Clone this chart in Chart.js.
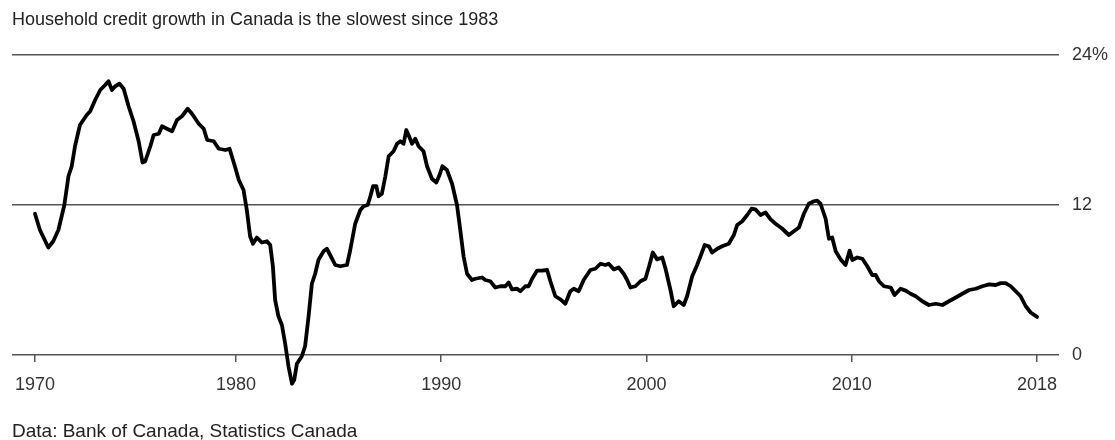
<!DOCTYPE html>
<html>
<head>
<meta charset="utf-8">
<script src="https://cdn.jsdelivr.net/npm/chart.js@4.4.1/dist/chart.umd.min.js"></script>
<style>
  html, body { margin: 0; padding: 0; background: #fff; }
  #wrap { position: relative; width: 1115px; height: 440px; overflow: hidden; }
  #chart-box { position: absolute; left: 0; top: 0; width: 1115px; height: 440px; }
  .txt { position: absolute; left: 12px; font-family: "Liberation Sans", Arial, sans-serif; color: #222; white-space: nowrap; line-height: 1; }
  #title { top: 10px; font-size: 18px; }
  #source { top: 421px; font-size: 19px; }
</style>
</head>
<body>
<div id="wrap">
  <div id="chart-box"><canvas id="c"></canvas></div>
  <div id="title" class="txt">Household credit growth in Canada is the slowest since 1983</div>
  <div id="source" class="txt">Data: Bank of Canada, Statistics Canada</div>
</div>
<script>
const years = [
  1970.21, 1970.45, 1970.86, 1971.10, 1971.35, 1971.64, 1971.84, 1972.00, 1972.16, 1972.40,
  1972.73, 1972.90, 1973.14, 1973.39, 1973.63, 1973.79, 1973.96, 1974.12, 1974.33, 1974.53,
  1974.77, 1975.01, 1975.26, 1975.45, 1975.58, 1975.83, 1975.99, 1976.24, 1976.40, 1976.64,
  1976.89, 1977.13, 1977.37, 1977.65, 1977.86, 1978.19, 1978.43, 1978.60, 1978.92, 1979.16,
  1979.49, 1979.69, 1979.93, 1980.14, 1980.37, 1980.53, 1980.69, 1980.83, 1981.02, 1981.26,
  1981.51, 1981.67, 1981.80, 1981.91, 1982.07, 1982.24, 1982.40, 1982.56, 1982.73, 1982.84,
  1982.97, 1983.21, 1983.37, 1983.54, 1983.70, 1983.86, 1984.02, 1984.27, 1984.43, 1984.59,
  1984.84, 1985.08, 1985.41, 1985.57, 1985.81, 1986.06, 1986.22, 1986.42, 1986.55, 1986.68,
  1986.84, 1986.95, 1987.11, 1987.28, 1987.44, 1987.68, 1987.85, 1988.01, 1988.17, 1988.30,
  1988.41, 1988.58, 1988.74, 1988.90, 1989.14, 1989.31, 1989.55, 1989.76, 1989.92, 1990.06,
  1990.28, 1990.53, 1990.77, 1990.93, 1991.09, 1991.26, 1991.50, 1991.66, 1991.99, 1992.15,
  1992.39, 1992.64, 1992.88, 1993.13, 1993.29, 1993.45, 1993.70, 1993.86, 1994.10, 1994.26,
  1994.43, 1994.67, 1994.91, 1995.16, 1995.32, 1995.56, 1995.81, 1996.05, 1996.29, 1996.46,
  1996.70, 1996.94, 1997.27, 1997.51, 1997.76, 1998.00, 1998.16, 1998.41, 1998.65, 1998.89,
  1999.06, 1999.22, 1999.46, 1999.71, 1999.95, 2000.13, 2000.31, 2000.52, 2000.77, 2000.93,
  2001.17, 2001.33, 2001.57, 2001.82, 2001.98, 2002.23, 2002.47, 2002.68, 2002.84, 2003.04,
  2003.20, 2003.45, 2003.69, 2004.01, 2004.26, 2004.42, 2004.67, 2004.91, 2005.12, 2005.31,
  2005.56, 2005.80, 2006.05, 2006.29, 2006.62, 2006.94, 2007.18, 2007.43, 2007.67, 2007.91,
  2008.16, 2008.32, 2008.48, 2008.73, 2008.89, 2009.05, 2009.22, 2009.46, 2009.70, 2009.90,
  2010.03, 2010.27, 2010.52, 2010.76, 2011.00, 2011.17, 2011.33, 2011.57, 2011.90, 2012.09,
  2012.38, 2012.63, 2012.87, 2013.12, 2013.44, 2013.76, 2014.09, 2014.42, 2014.74, 2015.07,
  2015.39, 2015.72, 2016.04, 2016.37, 2016.69, 2017.02, 2017.26, 2017.50, 2017.75, 2017.99,
  2018.23, 2018.48, 2018.72, 2019.03
];

// Household credit growth, % year over year
const growth = [
  11.3, 10.0, 8.6, 9.1, 10.0, 12.0, 14.3, 15.1, 16.7, 18.4,
  19.2, 19.5, 20.4, 21.2, 21.6, 21.9, 21.2, 21.5, 21.7, 21.3,
  19.9, 18.7, 17.1, 15.4, 15.5, 16.7, 17.6, 17.7, 18.3, 18.1,
  17.9, 18.8, 19.1, 19.7, 19.3, 18.5, 18.1, 17.2, 17.1, 16.5,
  16.4, 16.5, 15.2, 14.0, 13.2, 11.6, 9.5, 8.9, 9.4, 9.0,
  9.1, 8.8, 7.1, 4.4, 3.1, 2.4, 0.9, -0.9, -2.3, -2.0,
  -0.7, -0.1, 0.7, 3.1, 5.7, 6.5, 7.6, 8.3, 8.5, 8.0,
  7.2, 7.1, 7.2, 8.4, 10.5, 11.6, 11.9, 12.0, 12.7, 13.5,
  13.5, 12.7, 12.9, 14.3, 15.9, 16.3, 16.9, 17.1, 16.9, 18.0,
  17.6, 16.9, 17.3, 16.7, 16.3, 15.1, 14.1, 13.8, 14.4, 15.1,
  14.8, 13.7, 12.0, 10.0, 7.9, 6.5, 6.0, 6.1, 6.2, 6.0,
  5.9, 5.4, 5.5, 5.5, 5.8, 5.25, 5.3, 5.1, 5.5, 5.5,
  6.1, 6.75, 6.75, 6.8, 5.9, 4.7, 4.45, 4.1, 5.1, 5.3,
  5.1, 6.0, 6.8, 6.9, 7.3, 7.2, 7.3, 6.85, 7.0, 6.5,
  6.0, 5.4, 5.5, 5.9, 6.1, 7.1, 8.2, 7.65, 7.8, 6.9,
  5.2, 3.9, 4.3, 4.0, 4.7, 6.3, 7.2, 8.1, 8.8, 8.7,
  8.2, 8.5, 8.7, 8.9, 9.6, 10.4, 10.7, 11.2, 11.7, 11.65,
  11.2, 11.4, 10.85, 10.5, 10.1, 9.6, 9.9, 10.2, 11.3, 12.1,
  12.3, 12.35, 12.1, 10.9, 9.3, 9.4, 8.3, 7.65, 7.2, 8.35,
  7.6, 7.8, 7.7, 7.1, 6.4, 6.4, 5.9, 5.5, 5.4, 4.8,
  5.3, 5.15, 4.9, 4.7, 4.3, 4.0, 4.1, 4.0, 4.3, 4.6,
  4.9, 5.2, 5.3, 5.5, 5.65, 5.6, 5.75, 5.75, 5.5, 5.1,
  4.7, 3.9, 3.4, 3.05
];

// Axis ticks
const xTickValues = [1970.21, 1980, 1990, 2000, 2010, 2019.03];
const xTickLabels = ['1970', '1980', '1990', '2000', '2010', '2018'];
const yTickValues = [0, 12, 24];
const yTickLabels = ['0', '12', '24%'];

const points = years.map((x, i) => ({ x: x, y: growth[i] }));

const gridColor = '#555';
const tickFont = { family: '"Liberation Sans", Arial, sans-serif', size: 18 };

new Chart(document.getElementById('c'), {
  type: 'line',
  data: {
    datasets: [{
      data: points,
      borderColor: '#000',
      borderWidth: 3.8,
      pointRadius: 0,
      tension: 0,
      borderJoinStyle: 'round',
      borderCapStyle: 'round',
      fill: false
    }]
  },
  options: {
    responsive: true,
    maintainAspectRatio: false,
    animation: false,
    events: [],
    layout: { padding: { left: 12, top: 55, right: 0, bottom: 47.5 } },
    plugins: { legend: { display: false }, tooltip: { enabled: false }, title: { display: false } },
    scales: {
      x: {
        type: 'linear',
        position: { y: 0 },
        min: 1969.09,
        max: 2020.1,
        afterBuildTicks: (s) => { s.ticks = xTickValues.map(v => ({ value: v })); },
        ticks: {
          autoSkip: false,
          maxRotation: 0,
          padding: 12,
          color: '#333',
          font: tickFont,
          callback: (v, i) => xTickLabels[i]
        },
        grid: {
          drawOnChartArea: false,
          drawTicks: true,
          tickLength: 7,
          color: gridColor,
          lineWidth: 1.5
        },
        border: { display: false }
      },
      y: {
        type: 'linear',
        position: 'right',
        min: -3,
        max: 24,
        afterBuildTicks: (s) => { s.ticks = yTickValues.map(v => ({ value: v })); },
        afterFit: (s) => { s.width = 56; },
        ticks: {
          padding: 13,
          color: '#333',
          font: tickFont,
          callback: (v, i) => yTickLabels[i]
        },
        grid: {
          drawTicks: false,
          color: gridColor,
          lineWidth: 1.5
        },
        border: { display: false }
      }
    }
  }
});
</script>
</body>
</html>
